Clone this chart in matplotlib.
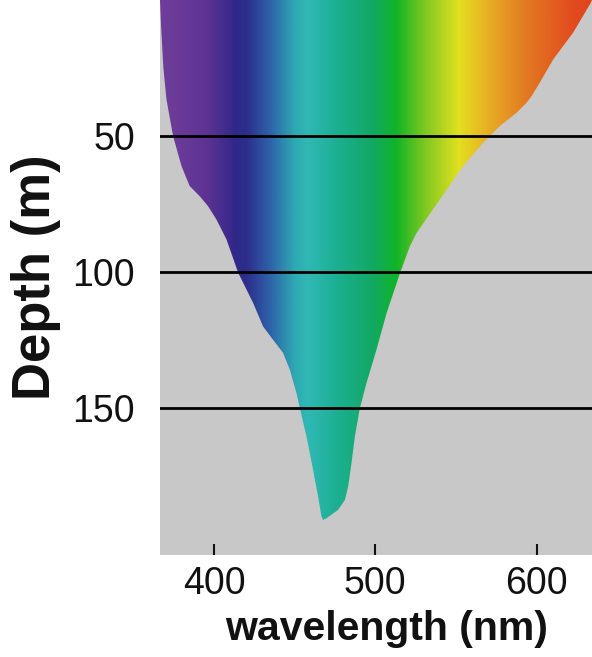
import numpy as np
import matplotlib
matplotlib.use("Agg")
import matplotlib.pyplot as plt
from matplotlib.colors import LinearSegmentedColormap
from matplotlib.patches import Polygon

# ---- data ----
# left edge of the light envelope (depth m, wavelength nm), top -> bottom
left_depth = [0, 10, 25, 36.5, 50, 61, 68.4, 72.1, 75.8, 80.7, 88, 100.3, 111.3, 120,
              124.9, 129.7, 135.9, 144.5, 150, 160.4, 172.7, 182.5, 189.9, 191.1]
left_nm = [366.5, 367.2, 368.6, 370.5, 374.6, 379.8, 384.9, 391.1, 396.3, 401.5, 407.7,
           415.0, 424.2, 430.4, 436.6, 442.8, 447.0, 451.1, 453.2, 457.3, 461.4, 464.5,
           466.6, 467.6]
# right edge of the envelope (depth m, wavelength nm), bottom -> top
right_depth = [190.5, 187.4, 183.8, 178.9, 170.3, 160.4, 150, 140.8, 128.5, 115, 100.9,
               90.5, 85.6, 73.3, 61, 52.4, 50, 46.3, 41.4, 37.7, 35.3, 30.3, 21.8, 11.9,
               1.5, 0]
right_nm = [469.7, 476.9, 481.1, 483.1, 485.2, 487.3, 490.4, 494.5, 500.7, 507.0, 515.0,
            521.4, 525.6, 540.0, 554.5, 566.9, 571.0, 577.2, 587.6, 593.8, 596.9, 602.0,
            610.3, 622.7, 633.1, 634.3]

# spectrum colour stops (nm -> colour)
stop_nm = [366, 379, 397, 413, 420, 435, 450, 458, 476, 498, 513, 531, 552, 568, 593, 624, 635]
stop_col = ["#6e3e9a", "#6a3a98", "#5a3292", "#30288a", "#2c2e8c", "#2e64aa", "#2eaab2",
            "#30b8b4", "#1cb092", "#12a864", "#10b428", "#80c820", "#e2e020", "#e8b424",
            "#e27a22", "#e24a1e", "#e2441c"]

depth_lines = [50, 100, 150]
xticks = [400, 500, 600]
yticks = [50, 100, 150]
xlim = (366.5, 634.3)
ylim = (204, 0)

# ---- figure ----
plt.rcParams["font.family"] = ["Liberation Sans", "DejaVu Sans"]
fig = plt.figure(figsize=(5.92, 6.57), dpi=100)
ax = fig.add_axes([160 / 592, 102 / 657, 432 / 592, 555 / 657])
ax.set_facecolor("#c8c8c8")

lo, hi = stop_nm[0], stop_nm[-1]
cmap = LinearSegmentedColormap.from_list(
    "spec", [((n - lo) / (hi - lo), c) for n, c in zip(stop_nm, stop_col)], N=512)
grad = np.linspace(lo, hi, 600)[None, :]
im = ax.imshow(grad, extent=[lo, hi, ylim[0], ylim[1]], cmap=cmap, vmin=lo, vmax=hi,
               aspect="auto", interpolation="bilinear", zorder=1)

poly_xy = list(zip(left_nm, left_depth)) + list(zip(right_nm, right_depth))
clip = Polygon(poly_xy, closed=True, transform=ax.transData, facecolor="none",
               edgecolor="none")
ax.add_patch(clip)
im.set_clip_path(clip)

for d in depth_lines:
    ax.axhline(d, color="black", lw=2.0, zorder=3)

ax.set_xlim(*xlim)
ax.set_ylim(*ylim)
for s in ax.spines.values():
    s.set_visible(False)

ax.set_xticks(xticks)
ax.set_yticks(yticks)
ax.tick_params(axis="x", direction="in", length=8, width=1.5, pad=8,
               labelsize=27, colors="#111111")
ax.tick_params(axis="y", length=0, pad=18, labelsize=27, colors="#111111")

ax.set_xlabel("wavelength (nm)", fontsize=29.5, fontweight="bold", labelpad=4,
              color="#111111")
ax.xaxis.set_label_coords(0.524, -0.168)
ax.xaxis.label.set_va("bottom")
ax.set_ylabel("Depth (m)", fontsize=38, fontweight="bold", labelpad=8,
              color="#111111")

fig.savefig("out.png", dpi=100)
